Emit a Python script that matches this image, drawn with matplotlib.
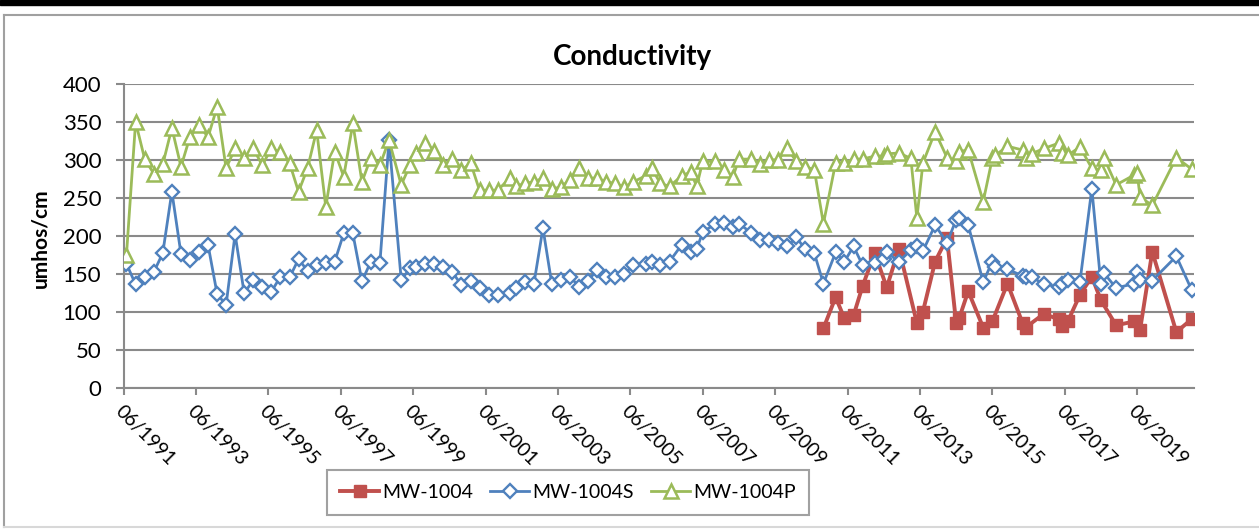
import matplotlib
matplotlib.use("Agg")
import matplotlib.pyplot as plt
import matplotlib.dates as mdates
from matplotlib.patches import Rectangle
from matplotlib.lines import Line2D
import numpy as np

plt.rcParams['font.family'] = ['Lato', 'DejaVu Sans']

# sample dates shared by MW-1004S and MW-1004P
dates_sp = [
    "1991-07", "1991-10", "1992-01", "1992-04", "1992-07", "1992-10", "1993-01", "1993-04", "1993-07", "1993-10",
    "1994-01", "1994-04", "1994-07", "1994-10", "1995-01", "1995-04", "1995-07", "1995-10", "1996-01", "1996-04",
    "1996-07", "1996-10", "1997-01", "1997-04", "1997-07", "1997-10", "1998-01", "1998-04", "1998-07", "1998-10",
    "1999-02", "1999-05", "1999-07", "1999-10", "2000-01", "2000-04", "2000-07", "2000-10", "2001-01", "2001-04",
    "2001-07", "2001-10", "2002-02", "2002-04", "2002-07", "2002-10", "2003-01", "2003-04", "2003-07", "2003-10",
    "2004-01", "2004-04", "2004-07", "2004-10", "2005-01", "2005-04", "2005-07", "2005-11", "2006-01", "2006-04",
    "2006-07", "2006-11", "2007-02", "2007-04", "2007-06", "2007-10", "2008-01", "2008-04", "2008-06", "2008-10",
    "2009-01", "2009-04", "2009-07", "2009-10", "2010-01", "2010-04", "2010-07", "2010-10", "2011-02", "2011-05",
    "2011-08", "2011-11", "2012-03", "2012-06", "2012-07", "2012-11", "2013-03", "2013-05", "2013-07", "2013-11",
    "2014-03", "2014-06", "2014-07", "2014-10", "2015-03", "2015-06", "2015-07", "2015-11", "2016-04", "2016-05",
    "2016-07", "2016-11", "2017-04", "2017-05", "2017-07", "2017-11", "2018-03", "2018-06", "2018-07", "2018-11",
    "2019-05", "2019-06", "2019-07", "2019-11", "2020-07", "2020-12",
]

mw1004s = [
    163, 136, 145, 152, 177, 258, 176, 168, 178, 188,
    123, 109, 202, 124, 142, 132, 126, 146, 145, 169,
    154, 161, 164, 166, 203, 203, 140, 166, 164, 326,
    142, 157, 159, 163, 163, 159, 152, 135, 141, 131,
    122, 122, 125, 131, 139, 136, 210, 136, 142, 146,
    133, 141, 155, 146, 146, 150, 161, 163, 166, 161,
    166, 188, 178, 182, 205, 215, 217, 212, 216, 204,
    195, 194, 190, 186, 198, 182, 177, 137, 178, 166,
    186, 161, 164, 170, 178, 166, 181, 186, 180, 214,
    191, 221, 223, 214, 139, 166, 159, 156, 147, 145,
    146, 136, 133, 137, 142, 139, 262, 136, 151, 131,
    137, 152, 142, 141, 173, 129,
]

mw1004p = [
    175, 350, 301, 282, 294, 342, 291, 330, 346, 330,
    370, 289, 315, 303, 315, 293, 315, 310, 296, 258,
    289, 339, 238, 311, 278, 348, 271, 303, 293, 326,
    267, 293, 309, 322, 312, 293, 301, 286, 296, 260,
    260, 260, 276, 265, 269, 271, 276, 262, 264, 274,
    289, 276, 276, 271, 269, 264, 271, 279, 289, 269,
    265, 279, 284, 265, 298, 298, 287, 278, 301, 301,
    295, 300, 300, 315, 298, 291, 287, 216, 296, 296,
    301, 301, 305, 305, 308, 309, 302, 223, 296, 337,
    303, 298, 311, 313, 245, 302, 306, 318, 313, 303,
    308, 315, 322, 309, 306, 317, 289, 287, 303, 267,
    280, 283, 251, 240, 303, 288,
]

dates_1004 = [
    "2010-10", "2011-02", "2011-05", "2011-08", "2011-11", "2012-03", "2012-07", "2012-11", "2013-05", "2013-07",
    "2013-11", "2014-03", "2014-06", "2014-07", "2014-10", "2015-03", "2015-06", "2015-11", "2016-04", "2016-05",
    "2016-11", "2017-04", "2017-05", "2017-07", "2017-11", "2018-03", "2018-06", "2018-11", "2019-05", "2019-07",
    "2019-11", "2020-07", "2020-12",
]

mw1004 = [
    78, 119, 91, 95, 134, 177, 132, 183, 85, 100,
    166, 197, 85, 91, 127, 79, 87, 137, 85, 79,
    97, 90, 81, 87, 122, 146, 115, 82, 87, 76,
    179, 73, 90,
]

tick_years = list(range(1991, 2020, 2))

W, H = 1259, 529
fig = plt.figure(figsize=(W / 100, H / 100), dpi=100)
ax = fig.add_axes([123.5 / W, 1 - 387.5 / H, (1194 - 123.5) / W, (387.5 - 84) / H])

x_sp = np.array(dates_sp, dtype="datetime64[M]").astype("datetime64[D]")
x_r = np.array(dates_1004, dtype="datetime64[M]").astype("datetime64[D]")

red, blue, green = "#C0504D", "#4F81BD", "#9BBB59"
ax.plot(x_r, mw1004, color=red, lw=2.8, marker="s", ms=8.5, mfc=red, mec=red, label="MW-1004", zorder=3)
ax.plot(x_sp, mw1004s, color=blue, lw=2.0, marker="D", ms=7, mfc="white", mec=blue, mew=1.7,
        label="MW-1004S", zorder=4)
ax.plot(x_sp, mw1004p, color=green, lw=2.0, marker="^", ms=10.5, mfc="white", mec=green, mew=1.8,
        label="MW-1004P", zorder=5)

ax.set_ylim(0, 400)
ax.set_yticks(range(0, 401, 50))
ax.set_xlim(np.datetime64("1991-06-01"), np.datetime64("2020-12-26"))
ax.set_xticks([np.datetime64(f"{y}-06-01") for y in tick_years])
ax.xaxis.set_major_formatter(mdates.DateFormatter("%m/%Y"))

ax.grid(axis="y", color="#8a8a8a", lw=1.5)
ax.set_axisbelow(True)
for s in ["top", "right"]:
    ax.spines[s].set_visible(False)
for s in ["left", "bottom"]:
    ax.spines[s].set_color("#8a8a8a")
    ax.spines[s].set_linewidth(1.5)

ax.tick_params(axis="y", length=6, width=1.5, color="#8a8a8a", labelsize=16, pad=10)
ax.tick_params(axis="x", length=5, width=1.5, color="#8a8a8a", labelsize=14, pad=6)
for lab in ax.get_xticklabels():
    lab.set_rotation(-45)
    lab.set_ha("left")
    lab.set_va("top")
    lab.set_rotation_mode("anchor")

fig.text(632 / W, 1 - 57 / H, "Conductivity", ha="center", va="center", fontsize=20, fontweight="bold")
fig.text(40 / W, 1 - 238 / H, "umhos/cm", ha="center", va="center", rotation=90, fontsize=15,
         fontweight="bold")

leg = fig.legend(loc="center", bbox_to_anchor=(568 / W, 1 - 492.5 / H), ncol=3, fontsize=14,
                 frameon=True, fancybox=False, edgecolor="#8a8a8a", handlelength=2.0,
                 handletextpad=0.15, columnspacing=0.9, borderpad=0.7)
leg.get_frame().set_linewidth(1.5)

# chart area decorations: dark band on top and grey outer border
fig.patches.append(Rectangle((0, 1 - 5 / H), 1, 5 / H, transform=fig.transFigure, color="black"))
fig.lines.append(Line2D([4 / W, 1], [1 - 15 / H, 1 - 15 / H], transform=fig.transFigure,
                        color="#a0a0a0", lw=1.5))
fig.lines.append(Line2D([4 / W, 4 / W], [1 - 15 / H, 2 / H], transform=fig.transFigure,
                        color="#a0a0a0", lw=1.5))
fig.lines.append(Line2D([4 / W, 1], [2 / H, 2 / H], transform=fig.transFigure,
                        color="#d8d8d8", lw=1.5))

fig.savefig("out.png", dpi=100)
